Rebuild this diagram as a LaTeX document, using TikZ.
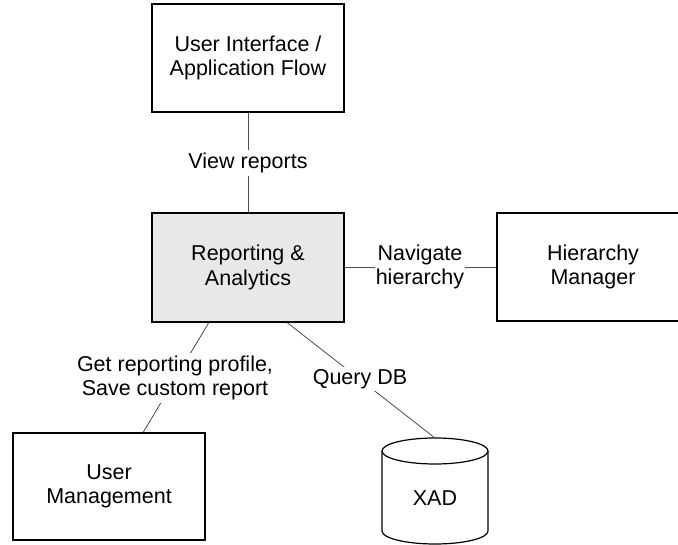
\documentclass[tikz,border=0pt]{standalone}
\usepackage{fontspec}
\setmainfont{Liberation Sans}
\usetikzlibrary{calc}

\tikzset{
  box/.style={draw=black, line width=1.4pt, minimum width=192pt, minimum height=108pt,
              align=center, inner sep=0pt, font=\fontsize{21.5}{24.5}\selectfont},
  hub/.style={box, fill=black!9, minimum height=109pt},
  conn/.style={draw=black!70, line width=0.8pt},
  lbl/.style={fill=white, align=center, inner xsep=1pt, inner ysep=2.5pt,
              font=\fontsize{21.5}{24.5}\selectfont},
  dbline/.style={draw=black, line width=1.2pt}
}

\begin{document}
\begin{tikzpicture}[x=1pt, y=-1pt]
  \useasboundingbox (0,0) rectangle (678,545);
  \clip (0,0) rectangle (678,545);

  % components
  \node[box] (ui) at (248,58) {User Interface /\\Application Flow};
  \node[hub] (ra) at (248,267.5) {Reporting \&\\Analytics};
  \node[box] (hm) at (593,267) {Hierarchy\\Manager};
  \node[box, minimum height=107pt] (um) at (109,486.5) {User\\Management};

  % database cylinder
  \draw[dbline] (382,451) -- (382,531)
      arc[start angle=180, end angle=360, x radius=53pt, y radius=13pt]
      -- (488,451);
  \draw[dbline] (435,451) ellipse[x radius=53pt, y radius=13pt];
  \node[font=\fontsize{21.5}{24.5}\selectfont] (xad) at (435,498) {XAD};
  \coordinate (dbtop) at (435,438);

  % attachment points on the hub and user management boxes
  \coordinate (raum) at ($(ra.south west)!0.297!(ra.south east)$);
  \coordinate (radb) at ($(ra.south west)!0.703!(ra.south east)$);
  \coordinate (umtop) at ($(um.north west)!0.677!(um.north east)$);

  % connectors
  \draw[conn] (ui.south) -- (ra.north);
  \draw[conn] (ra.east) -- (hm.west |- ra.east);
  \draw[conn] (raum) -- (umtop);
  \draw[conn] (radb) -- (dbtop);

  % connector labels
  \node[lbl] (lview) at (248,163) {View reports};
  \node[lbl] (lnav) at (420,267) {Navigate\\hierarchy};
  \node[lbl] (lprof) at (175,378) {Get reporting profile,\\Save custom report};
  \node[lbl, inner ysep=2pt] (lquery) at (360,379) {Query DB};
\end{tikzpicture}
\end{document}
